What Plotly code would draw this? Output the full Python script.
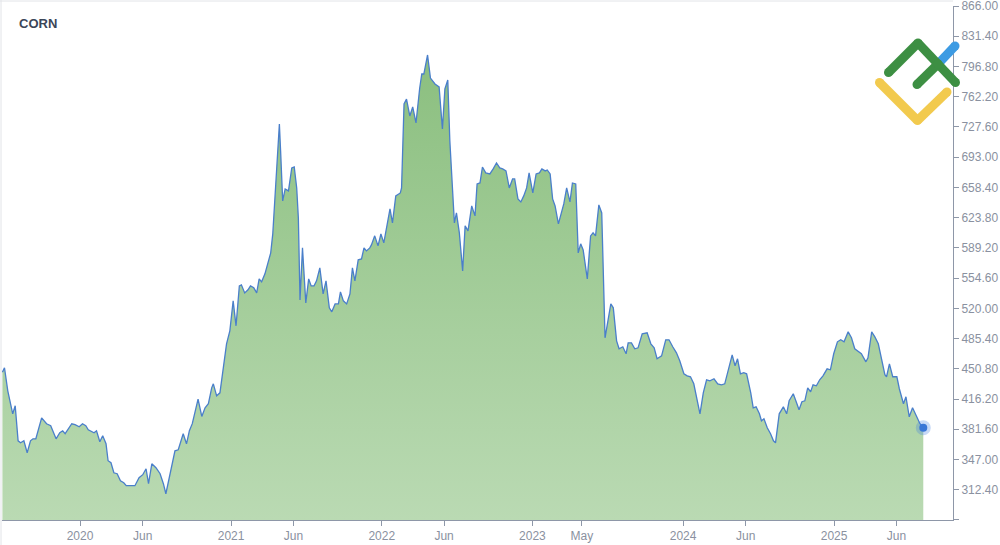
import plotly.graph_objects as go

# ---------------- data ----------------
dates = [
    "2019-06-27", "2019-07-02", "2019-07-10", "2019-07-22", "2019-07-28", "2019-08-04", "2019-08-10",
    "2019-08-18", "2019-08-26", "2019-09-03", "2019-09-09", "2019-09-16", "2019-09-30", "2019-10-12",
    "2019-10-22", "2019-11-04", "2019-11-13", "2019-11-20", "2019-11-26", "2019-12-04", "2019-12-12",
    "2019-12-20", "2019-12-30", "2020-01-07", "2020-01-15", "2020-01-21", "2020-01-29", "2020-02-04",
    "2020-02-10", "2020-02-18", "2020-02-25", "2020-03-04", "2020-03-09", "2020-03-16", "2020-03-23",
    "2020-03-31", "2020-04-08", "2020-04-16", "2020-04-22", "2020-05-02", "2020-05-13", "2020-05-23",
    "2020-06-01", "2020-06-09", "2020-06-15", "2020-06-23", "2020-07-03", "2020-07-13", "2020-07-21",
    "2020-07-27", "2020-08-07", "2020-08-18", "2020-08-26", "2020-09-07", "2020-09-15", "2020-09-22",
    "2020-09-29", "2020-10-05", "2020-10-13", "2020-10-22", "2020-10-30", "2020-11-07", "2020-11-15",
    "2020-11-19", "2020-11-27", "2020-12-05", "2020-12-13", "2020-12-21", "2020-12-29", "2021-01-06",
    "2021-01-13", "2021-01-21", "2021-01-26", "2021-02-03", "2021-02-11", "2021-02-17", "2021-02-25",
    "2021-03-04", "2021-03-10", "2021-03-16", "2021-03-24", "2021-03-30", "2021-04-07", "2021-04-12",
    "2021-04-17", "2021-04-23", "2021-04-28", "2021-05-01", "2021-05-06", "2021-05-12", "2021-05-20",
    "2021-05-28", "2021-06-03", "2021-06-09", "2021-06-13", "2021-06-17", "2021-06-23", "2021-07-01",
    "2021-07-08", "2021-07-14", "2021-07-21", "2021-07-27", "2021-08-04", "2021-08-12", "2021-08-19",
    "2021-08-27", "2021-09-02", "2021-09-10", "2021-09-18", "2021-09-23", "2021-09-30", "2021-10-08",
    "2021-10-16", "2021-10-22", "2021-10-28", "2021-11-05", "2021-11-13", "2021-11-19", "2021-11-25",
    "2021-12-03", "2021-12-07", "2021-12-15", "2021-12-23", "2021-12-30", "2022-01-06", "2022-01-21",
    "2022-01-27", "2022-02-04", "2022-02-15", "2022-02-18", "2022-02-24", "2022-03-02", "2022-03-10",
    "2022-03-17", "2022-03-25", "2022-04-03", "2022-04-08", "2022-04-13", "2022-04-22", "2022-04-29",
    "2022-05-10", "2022-05-20", "2022-05-28", "2022-06-03", "2022-06-10", "2022-06-15", "2022-06-22",
    "2022-06-26", "2022-07-01", "2022-07-08", "2022-07-16", "2022-07-22", "2022-07-29", "2022-08-07",
    "2022-08-15", "2022-08-20", "2022-08-27", "2022-09-02", "2022-09-10", "2022-09-20", "2022-09-28",
    "2022-10-06", "2022-10-14", "2022-10-21", "2022-10-29", "2022-11-06", "2022-11-14", "2022-11-19",
    "2022-11-27", "2022-12-04", "2022-12-11", "2022-12-18", "2022-12-24", "2023-01-02", "2023-01-10",
    "2023-01-18", "2023-01-24", "2023-02-01", "2023-02-06", "2023-02-13", "2023-02-19", "2023-02-25",
    "2023-03-05", "2023-03-13", "2023-03-18", "2023-03-25", "2023-04-02", "2023-04-08", "2023-04-16",
    "2023-04-22", "2023-04-28", "2023-05-04", "2023-05-14", "2023-05-22", "2023-05-28", "2023-06-03",
    "2023-06-11", "2023-06-18", "2023-06-26", "2023-07-10", "2023-07-16", "2023-07-24", "2023-07-30",
    "2023-08-08", "2023-08-16", "2023-08-21", "2023-08-29", "2023-09-06", "2023-09-14", "2023-09-24",
    "2023-10-06", "2023-10-15", "2023-10-23", "2023-10-30", "2023-11-10", "2023-11-20", "2023-11-28",
    "2023-12-07", "2023-12-16", "2023-12-24", "2024-01-03", "2024-01-11", "2024-01-19", "2024-01-27",
    "2024-02-03", "2024-02-11", "2024-02-19", "2024-02-27", "2024-03-06", "2024-03-16", "2024-03-25",
    "2024-04-03", "2024-04-11", "2024-04-17", "2024-04-24", "2024-04-29", "2024-05-06", "2024-05-12",
    "2024-05-19", "2024-05-27", "2024-06-03", "2024-06-13", "2024-06-19", "2024-06-26", "2024-07-04",
    "2024-07-09", "2024-07-15", "2024-07-23", "2024-07-31", "2024-08-07", "2024-08-12", "2024-08-21",
    "2024-08-31", "2024-09-08", "2024-09-14", "2024-09-24", "2024-10-02", "2024-10-08", "2024-10-15",
    "2024-10-22", "2024-10-29", "2024-11-05", "2024-11-11", "2024-11-19", "2024-11-27", "2024-12-05",
    "2024-12-15", "2024-12-23", "2024-12-31", "2025-01-09", "2025-01-17", "2025-01-25", "2025-02-04",
    "2025-02-12", "2025-02-20", "2025-02-28", "2025-03-08", "2025-03-19", "2025-03-24", "2025-04-02",
    "2025-04-10", "2025-04-18", "2025-04-26", "2025-05-04", "2025-05-08", "2025-05-15", "2025-05-23",
    "2025-06-02", "2025-06-08", "2025-06-18", "2025-06-24", "2025-07-02", "2025-07-10", "2025-07-20",
    "2025-07-28", "2025-08-05",
]

prices = [
    447.0, 452.0, 425.6, 399.3, 408.5, 368.4, 366.1,
    368.4, 354.7, 368.4, 370.7, 370.7, 394.7, 387.9,
    385.6, 370.7, 377.6, 379.9, 376.5, 382.2, 387.9,
    386.8, 384.5, 387.9, 385.6, 381.0, 378.7, 377.6,
    379.9, 367.3, 374.2, 365.0, 345.6, 343.3, 331.8,
    330.7, 322.7, 320.4, 317.0, 317.0, 317.0, 326.1,
    329.6, 336.4, 319.3, 342.1, 337.6, 330.7, 319.3,
    307.8, 331.8, 357.0, 358.1, 376.5, 365.0, 380.0,
    388.0, 399.3, 416.2, 396.3, 406.2, 410.8, 429.0,
    433.6, 419.9, 423.3, 449.7, 479.4, 494.3, 528.6,
    500.0, 545.7, 546.9, 537.7, 541.2, 545.7, 543.5,
    537.7, 553.7, 550.3, 559.5, 570.9, 583.5, 605.2,
    643.0, 685.3, 731.0, 700.1, 643.0, 656.7, 654.4,
    680.7, 681.8, 657.8, 623.5, 529.7, 589.2, 526.3,
    553.7, 545.7, 545.7, 551.5, 566.3, 536.6, 551.5,
    520.6, 516.0, 525.1, 525.1, 538.9, 528.6, 525.1,
    536.6, 566.3, 551.5, 575.5, 576.6, 589.2, 585.8,
    589.2, 592.6, 603.0, 591.5, 605.2, 594.9, 633.8,
    617.8, 648.7, 652.1, 657.8, 753.9, 759.6, 740.2,
    750.5, 732.2, 772.2, 788.2, 788.2, 810.0, 783.6,
    776.8, 773.4, 725.3, 771.1, 781.4, 711.6, 643.0,
    617.8, 629.2, 606.4, 562.9, 614.4, 608.6, 637.2,
    625.8, 662.4, 663.5, 681.8, 675.0, 673.8, 679.6,
    686.4, 680.7, 679.6, 677.3, 657.8, 668.1, 668.1,
    645.3, 641.8, 648.7, 657.8, 675.0, 652.1, 673.8,
    675.0, 679.6, 677.3, 678.4, 673.8, 645.3, 637.2,
    616.6, 631.5, 639.5, 657.8, 641.8, 663.5, 662.4,
    583.5, 593.8, 586.9, 553.7, 602.9, 606.4, 602.9,
    638.4, 629.2, 486.3, 525.1, 520.6, 482.8, 473.7,
    476.0, 468.0, 480.5, 480.5, 473.7, 474.8, 490.8,
    492.0, 479.4, 474.8, 462.3, 465.7, 484.0, 484.0,
    476.0, 469.1, 460.0, 445.1, 442.8, 441.7, 433.6,
    418.8, 399.3, 423.3, 438.2, 437.1, 439.4, 433.6,
    432.5, 433.6, 445.1, 460.0, 466.8, 454.2, 462.3,
    445.1, 446.3, 445.1, 423.3, 406.2, 407.3, 399.3,
    391.3, 393.6, 383.3, 376.5, 368.4, 366.1, 399.3,
    407.3, 399.3, 414.2, 422.2, 411.9, 403.9, 413.1,
    414.2, 429.0, 424.5, 432.5, 431.3, 438.2, 442.8,
    450.8, 449.7, 468.0, 481.7, 484.0, 481.7, 493.1,
    486.3, 473.7, 470.3, 468.0, 458.8, 463.4, 493.1,
    487.1, 479.4, 462.3, 444.0, 441.7, 456.5, 441.7,
    441.7, 428.0, 410.8, 418.8, 395.9, 406.2, 395.9,
    387.9, 383.3,
]

x_tick_dates = ["2020-01-01", "2020-06-01", "2021-01-01", "2021-06-01", "2022-01-01", "2022-06-01",
                "2023-01-01", "2023-05-01", "2024-01-01", "2024-06-01", "2025-01-01", "2025-06-01"]
x_tick_labels = ["2020", "Jun", "2021", "Jun", "2022", "Jun", "2023", "May", "2024", "Jun", "2025", "Jun"]

y_tick_values = [277.8, 312.4, 347.0, 381.6, 416.2, 450.8, 485.4, 520.0, 554.6, 589.2,
                 623.8, 658.4, 693.0, 727.6, 762.2, 796.8, 831.4, 866.0]
y_tick_labels = [""] + [f"{v:.2f}" for v in y_tick_values[1:]]

x_range = ["2019-06-26", "2025-10-16"]
y_range = [277.75, 866.05]

title_text = "CORN"

# ---------------- figure ----------------
W, H = 1000, 545
ML, MR, MT, MB = 2, 47, 6, 25
PW, PH = W - ML - MR, H - MT - MB

AXIS_COLOR = "#8e97a8"
TICK_FONT = dict(family="Liberation Sans, Arial, sans-serif", size=12, color="#8a91a0")

fig = go.Figure()

fig.add_trace(go.Scatter(
    x=dates, y=prices,
    mode="lines",
    line=dict(color="#4a7fca", width=1.3),
    fill="tozeroy",
    fillgradient=dict(
        type="vertical",
        colorscale=[[0, "#badab3"], [1, "#8bbf7f"]],
        start=y_range[0], stop=810,
    ),
    hoverinfo="skip",
    showlegend=False,
))

# last point marker (halo + dot)
fig.add_trace(go.Scatter(
    x=[dates[-1]], y=[prices[-1]], mode="markers",
    marker=dict(size=15, color="rgba(70,130,225,0.30)", line=dict(width=0)),
    hoverinfo="skip", showlegend=False, cliponaxis=False,
))
fig.add_trace(go.Scatter(
    x=[dates[-1]], y=[prices[-1]], mode="markers",
    marker=dict(size=8, color="#3a77d6", line=dict(width=0)),
    hoverinfo="skip", showlegend=False, cliponaxis=False,
))


# helpers for decorative pixel placement (paper coords)
def px(x):
    return (x - ML) / PW


def py(y):
    return (H - MB - y) / PH


shapes = []
# thin container border (top / left)
shapes.append(dict(type="line", xref="paper", yref="paper", x0=px(0), x1=px(953), y0=py(1), y1=py(1),
                   line=dict(color="#e2e4e8", width=1), layer="below"))
shapes.append(dict(type="line", xref="paper", yref="paper", x0=px(1), x1=px(1), y0=py(0), y1=py(545),
                   line=dict(color="#e2e4e8", width=1), layer="below"))


# logo strokes
def stroke(points, color, width=9):
    for (xa, ya), (xb, yb) in zip(points[:-1], points[1:]):
        shapes.append(dict(type="line", xref="paper", yref="paper",
                           x0=px(xa), y0=py(ya), x1=px(xb), y1=py(yb),
                           line=dict(color=color, width=width), layer="above"))
    r = width / 2.0
    for (xa, ya) in points:
        shapes.append(dict(type="circle", xref="paper", yref="paper",
                           x0=px(xa - r), x1=px(xa + r), y0=py(ya + r), y1=py(ya - r),
                           fillcolor=color, line=dict(width=0), layer="above"))


stroke([(879.5, 82.5), (917.5, 120.5), (947, 92)], "#f2ca4e")
stroke([(938, 64), (955, 46)], "#3d9be3")
stroke([(888.5, 72.5), (918, 43), (955.5, 82.5)], "#3d8f43")
stroke([(917, 84.5), (938, 64)], "#3d8f43")

fig.update_layout(
    width=W, height=H,
    template="none",
    margin=dict(l=ML, r=MR, t=MT, b=MB, pad=0),
    paper_bgcolor="white", plot_bgcolor="white",
    showlegend=False,
    shapes=shapes,
    annotations=[dict(
        text=f"<b>{title_text}</b>", xref="paper", yref="paper",
        x=px(17), y=py(24), xanchor="left", yanchor="middle", showarrow=False,
        font=dict(family="Liberation Sans, Arial, sans-serif", size=13, color="#3b4658"),
    )],
    xaxis=dict(
        type="date", range=x_range, automargin=False,
        showgrid=False, zeroline=False,
        showline=True, linecolor=AXIS_COLOR, linewidth=1,
        ticks="outside", ticklen=5, tickcolor=AXIS_COLOR, tickwidth=1,
        tickmode="array", tickvals=x_tick_dates, ticktext=x_tick_labels,
        tickfont=TICK_FONT, ticklabeloverflow="allow",
    ),
    yaxis=dict(
        side="right", range=y_range, automargin=False,
        showgrid=False, zeroline=False,
        showline=True, linecolor=AXIS_COLOR, linewidth=1,
        ticks="outside", ticklen=5, tickcolor=AXIS_COLOR, tickwidth=1,
        tickmode="array", tickvals=y_tick_values, ticktext=y_tick_labels,
        tickfont=TICK_FONT, ticklabeloverflow="allow",
    ),
)

fig.write_html(
    "out.html",
    config={"displayModeBar": False},
    post_script="document.body.style.margin='0';document.body.style.padding='0';",
)
